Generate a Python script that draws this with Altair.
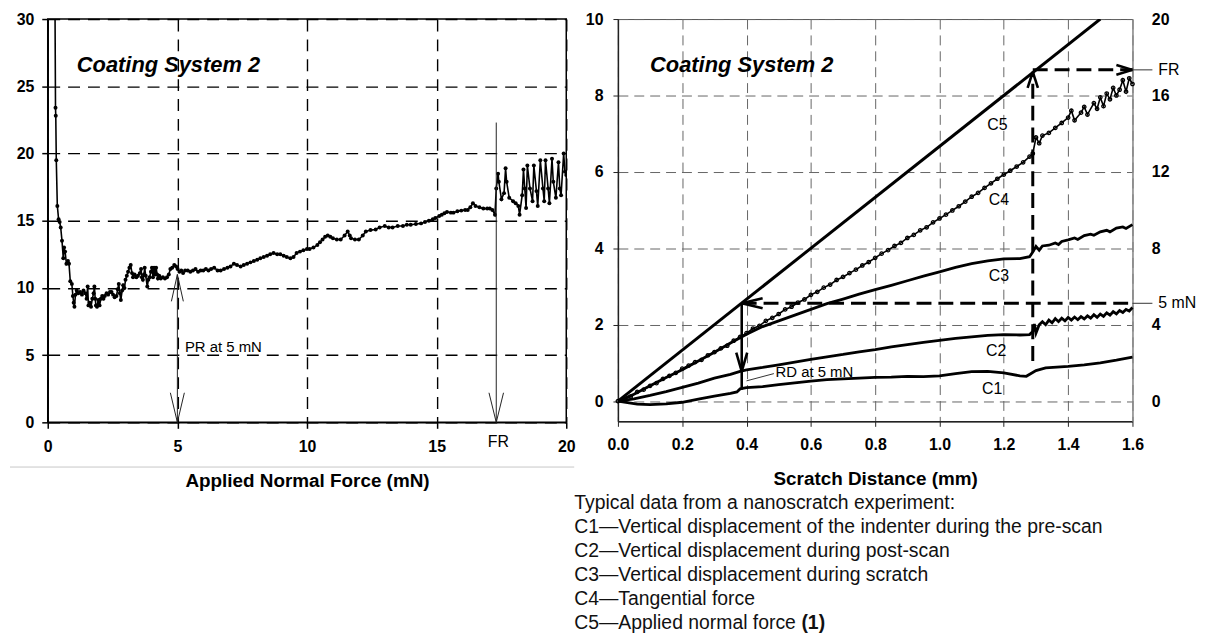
import altair as alt
import pandas as pd

FONT = "Liberation Sans"

# ---------------- data: left panel (friction-like trace vs applied normal force) ----------------
LEFT_POINTS = [
    (0.28, 31.0), (0.30, 23.4), (0.31, 22.8), (0.33, 19.5), (0.37, 16.1), (0.42, 15.1), (0.46, 14.9),
    (0.50, 14.5), (0.55, 13.5), (0.60, 12.2), (0.63, 13.0), (0.67, 12.7), (0.72, 11.8), (0.78, 12.0),
    (0.82, 11.8), (0.87, 10.5), (0.93, 10.3), (0.97, 9.4), (1.00, 8.9), (1.03, 8.6), (1.07, 9.5),
    (1.12, 9.8), (1.18, 9.6), (1.25, 9.7), (1.32, 9.5), (1.38, 9.8), (1.45, 9.6), (1.50, 9.2),
    (1.54, 10.1), (1.57, 8.7), (1.62, 8.9), (1.67, 8.6), (1.72, 9.2), (1.77, 9.6), (1.80, 10.1),
    (1.83, 9.2), (1.86, 8.7), (1.90, 8.6), (1.95, 9.1), (2.00, 8.7), (2.05, 9.2), (2.10, 9.4),
    (2.15, 9.2), (2.20, 9.4), (2.27, 9.6), (2.33, 9.5), (2.40, 9.7), (2.46, 9.7), (2.52, 9.5),
    (2.58, 9.3), (2.65, 9.4), (2.70, 9.9), (2.74, 10.3), (2.78, 9.6), (2.82, 9.1), (2.87, 9.8),
    (2.91, 10.2), (2.96, 10.0), (3.00, 10.6), (3.05, 10.9), (3.10, 11.2), (3.15, 11.5), (3.20, 11.7),
    (3.25, 11.1), (3.29, 10.8), (3.35, 11.0), (3.42, 10.8), (3.48, 10.9), (3.55, 11.1), (3.60, 11.4),
    (3.63, 10.8), (3.67, 10.6), (3.71, 11.0), (3.74, 11.5), (3.78, 10.9), (3.84, 10.1), (3.88, 10.6),
    (3.93, 10.8), (3.98, 11.2), (4.02, 11.5), (4.06, 10.8), (4.10, 11.5), (4.14, 11.0), (4.18, 11.5),
    (4.22, 11.0), (4.25, 10.7), (4.30, 10.9), (4.36, 10.7), (4.44, 10.8), (4.52, 10.7), (4.60, 10.8),
    (4.67, 11.0), (4.73, 11.4), (4.80, 11.5), (4.88, 11.7), (4.95, 11.6), (5.01, 11.4), (5.08, 11.2),
    (5.15, 11.3), (5.22, 11.1), (5.30, 11.3), (5.40, 11.3), (5.50, 11.2), (5.60, 11.3), (5.70, 11.4),
    (5.80, 11.2), (5.90, 11.3), (6.00, 11.3), (6.10, 11.4), (6.20, 11.3), (6.30, 11.4), (6.42, 11.5),
    (6.55, 11.3), (6.67, 11.3), (6.80, 11.4), (6.93, 11.5), (7.05, 11.6), (7.18, 11.8), (7.30, 11.7),
    (7.44, 11.6), (7.56, 11.7), (7.69, 11.8), (7.82, 11.9), (7.95, 12.0), (8.08, 12.1), (8.20, 12.2),
    (8.33, 12.3), (8.46, 12.4), (8.58, 12.5), (8.71, 12.6), (8.85, 12.5), (8.97, 12.5), (9.10, 12.4),
    (9.22, 12.3), (9.36, 12.2), (9.48, 12.3), (9.60, 12.6), (9.73, 12.7), (9.86, 12.8), (10.00, 12.9),
    (10.10, 12.9), (10.25, 13.0), (10.40, 13.2), (10.50, 13.4), (10.60, 13.6), (10.70, 13.8),
    (10.80, 13.9), (10.90, 13.8), (11.00, 13.7), (11.15, 13.6), (11.30, 13.6), (11.45, 13.9),
    (11.57, 14.2), (11.65, 13.9), (11.70, 13.7), (11.85, 13.6), (12.00, 13.6), (12.15, 13.9),
    (12.27, 14.2), (12.45, 14.3), (12.65, 14.35), (12.80, 14.5), (13.00, 14.6), (13.15, 14.5),
    (13.30, 14.5), (13.50, 14.6), (13.70, 14.6), (13.85, 14.7), (14.00, 14.7), (14.20, 14.75),
    (14.40, 14.8), (14.55, 14.9), (14.70, 15.0), (14.85, 15.1), (14.95, 15.2), (15.10, 15.35),
    (15.20, 15.45), (15.30, 15.55), (15.40, 15.65), (15.55, 15.6), (15.65, 15.6), (15.80, 15.7),
    (15.95, 15.75), (16.10, 15.8), (16.20, 15.8), (16.30, 16.0), (16.40, 16.3), (16.50, 16.1),
    (16.65, 16.0), (16.80, 15.9), (16.95, 15.9), (17.05, 15.9), (17.15, 15.8), (17.25, 15.45),
    (17.30, 17.4), (17.37, 18.5), (17.40, 17.9), (17.50, 16.6), (17.60, 17.05), (17.66, 18.9),
    (17.70, 17.9), (17.80, 16.7), (17.95, 16.45), (18.05, 16.3), (18.15, 16.1), (18.20, 15.45),
    (18.30, 16.9), (18.35, 18.8), (18.40, 17.4), (18.45, 15.95), (18.50, 19.1), (18.60, 17.4),
    (18.70, 16.45), (18.75, 19.1), (18.85, 17.2), (18.90, 16.1), (19.00, 19.5), (19.10, 17.4),
    (19.15, 16.45), (19.20, 19.5), (19.30, 17.4), (19.35, 16.3), (19.45, 19.6), (19.50, 17.9),
    (19.60, 16.7), (19.70, 19.35), (19.75, 17.4), (19.80, 16.9), (19.90, 20.0), (19.95, 18.65),
    (20.00, 18.4),
]

# ---------------- data: right panel curves (left-axis units) ----------------
C5 = [(0.0, 0.0), (1.5, 10.0)]

C4 = [
    (0.00, 0.00), (0.02, 0.05), (0.04, 0.12), (0.06, 0.24), (0.08, 0.30), (0.10, 0.40), (0.12, 0.47),
    (0.14, 0.58), (0.16, 0.66), (0.18, 0.74), (0.20, 0.85), (0.22, 0.93), (0.24, 1.02), (0.26, 1.08),
    (0.28, 1.20), (0.30, 1.28), (0.32, 1.38), (0.34, 1.45), (0.36, 1.58), (0.38, 1.68), (0.40, 1.78),
    (0.42, 1.90), (0.44, 1.97), (0.46, 2.10), (0.48, 2.18), (0.50, 2.28), (0.52, 2.40), (0.54, 2.47),
    (0.56, 2.58), (0.58, 2.66), (0.60, 2.78), (0.62, 2.86), (0.64, 2.97), (0.66, 3.05), (0.68, 3.17),
    (0.70, 3.25), (0.72, 3.35), (0.74, 3.44), (0.76, 3.55), (0.78, 3.64), (0.80, 3.75), (0.82, 3.86),
    (0.84, 3.95), (0.86, 4.06), (0.88, 4.14), (0.90, 4.27), (0.92, 4.35), (0.94, 4.47), (0.96, 4.55),
    (0.98, 4.68), (1.00, 4.78), (1.02, 4.88), (1.04, 4.99), (1.06, 5.10), (1.08, 5.22), (1.10, 5.35),
    (1.12, 5.45), (1.14, 5.58), (1.16, 5.70), (1.18, 5.82), (1.20, 5.93), (1.22, 6.03), (1.24, 6.14),
    (1.26, 6.25), (1.28, 6.40), (1.29, 6.48), (1.30, 6.90), (1.31, 6.75), (1.32, 6.95), (1.34, 7.02),
    (1.36, 7.15), (1.38, 7.28), (1.40, 7.42), (1.41, 7.60), (1.42, 7.35), (1.44, 7.55), (1.45, 7.70),
    (1.46, 7.50), (1.48, 7.80), (1.49, 7.65), (1.50, 7.95), (1.51, 7.72), (1.52, 8.05), (1.53, 7.90),
    (1.54, 8.20), (1.55, 8.00), (1.56, 8.15), (1.57, 8.40), (1.58, 8.10), (1.59, 8.45), (1.60, 8.30),
]

C3 = [
    (0.00, 0.00), (0.05, 0.18), (0.10, 0.40), (0.15, 0.62), (0.20, 0.82), (0.25, 1.05), (0.30, 1.28),
    (0.35, 1.52), (0.40, 1.75), (0.45, 1.95), (0.50, 2.10), (0.55, 2.25), (0.60, 2.40), (0.65, 2.55),
    (0.70, 2.67), (0.75, 2.80), (0.80, 2.92), (0.85, 3.03), (0.90, 3.15), (0.95, 3.27), (1.00, 3.38),
    (1.05, 3.50), (1.10, 3.60), (1.15, 3.67), (1.20, 3.72), (1.25, 3.73), (1.28, 3.78), (1.29, 3.90),
    (1.30, 4.05), (1.31, 3.95), (1.32, 4.06), (1.34, 4.08), (1.36, 4.14), (1.37, 4.10), (1.38, 4.18),
    (1.40, 4.22), (1.42, 4.27), (1.43, 4.23), (1.45, 4.33), (1.47, 4.37), (1.48, 4.34), (1.50, 4.43),
    (1.52, 4.47), (1.53, 4.43), (1.55, 4.53), (1.57, 4.56), (1.58, 4.52), (1.60, 4.62),
]

C2 = [
    (0.00, 0.00), (0.05, 0.06), (0.10, 0.15), (0.15, 0.25), (0.20, 0.36), (0.25, 0.47), (0.30, 0.60),
    (0.35, 0.70), (0.38, 0.78), (0.40, 0.82), (0.45, 0.88), (0.50, 0.95), (0.55, 1.02), (0.60, 1.09),
    (0.65, 1.16), (0.70, 1.22), (0.75, 1.29), (0.80, 1.35), (0.85, 1.42), (0.90, 1.48), (0.95, 1.54),
    (1.00, 1.59), (1.05, 1.64), (1.10, 1.68), (1.15, 1.72), (1.20, 1.74), (1.25, 1.73), (1.28, 1.74),
    (1.29, 1.82), (1.295, 2.02), (1.30, 1.78), (1.31, 2.00), (1.32, 2.08), (1.33, 2.00), (1.34, 2.12),
    (1.35, 2.05), (1.36, 2.16), (1.37, 2.08), (1.38, 2.17), (1.39, 2.10), (1.40, 2.19), (1.41, 2.12),
    (1.42, 2.20), (1.43, 2.13), (1.44, 2.21), (1.45, 2.15), (1.46, 2.23), (1.47, 2.17), (1.48, 2.26),
    (1.49, 2.19), (1.50, 2.28), (1.51, 2.22), (1.52, 2.31), (1.53, 2.25), (1.54, 2.34), (1.55, 2.28),
    (1.56, 2.37), (1.57, 2.32), (1.58, 2.40), (1.59, 2.36), (1.60, 2.45),
]

C1 = [
    (0.00, 0.00), (0.03, -0.04), (0.06, -0.08), (0.10, -0.09), (0.15, -0.07), (0.20, -0.03),
    (0.25, 0.05), (0.30, 0.13), (0.35, 0.20), (0.37, 0.24), (0.38, 0.32), (0.40, 0.35), (0.45, 0.38),
    (0.50, 0.43), (0.55, 0.48), (0.60, 0.52), (0.65, 0.56), (0.70, 0.58), (0.75, 0.60), (0.80, 0.62),
    (0.85, 0.63), (0.90, 0.65), (0.95, 0.64), (1.00, 0.66), (1.05, 0.72), (1.10, 0.77), (1.15, 0.78),
    (1.20, 0.74), (1.25, 0.66), (1.27, 0.65), (1.30, 0.80), (1.33, 0.87), (1.40, 0.91), (1.45, 0.95),
    (1.50, 1.00), (1.55, 1.07), (1.60, 1.15),
]

# ---------------- ticks ----------------
LEFT_X_TICKS = [0, 5, 10, 15, 20]
LEFT_Y_TICKS = [0, 5, 10, 15, 20, 25, 30]
RIGHT_X_TICKS = [0.0, 0.2, 0.4, 0.6, 0.8, 1.0, 1.2, 1.4, 1.6]
RIGHT_Y_TICKS = [0, 2, 4, 6, 8, 10]
RIGHT_Y2_TICKS = [0, 4, 8, 12, 16, 20]

# ---------------- annotations ----------------
LEFT_ARROWS = [  # x, y, x2, y2 (thin)
    (5.0, 11.0, 5.0, 0.0), (5.0, 11.0, 4.77, 9.0), (5.0, 11.0, 5.23, 9.0),
    (5.0, 0.0, 4.73, 2.2), (5.0, 0.0, 5.27, 2.2),
    (17.3, 22.3, 17.3, 0.0), (17.3, 0.0, 17.02, 2.2), (17.3, 0.0, 17.58, 2.2),
]
LEFT_LABELS = [("PR at 5 mN", 5.29, 5.6)]
LEFT_FR = [("FR", 17.38, -1.45)]
TITLE_TEXT = "Coating System 2"

RIGHT_DASHED = [
    (0.385, 2.56, 1.6, 2.56), (1.29, 1.05, 1.29, 8.6), (1.29, 8.67, 1.6, 8.67),
]
RIGHT_SOLID = [
    (0.385, 2.56, 0.385, 0.30), (0.385, 0.78, 0.368, 1.27), (0.385, 0.78, 0.402, 1.27),
    (0.385, 2.56, 0.45, 2.69), (0.385, 2.56, 0.45, 2.43),
    (1.29, 8.62, 1.274, 8.2), (1.29, 8.62, 1.306, 8.2),
    (1.6, 8.67, 1.55, 8.80), (1.6, 8.67, 1.55, 8.54),
]
RIGHT_THIN = [
    (1.6, 2.56, 1.662, 2.56), (1.6, 8.67, 1.662, 8.67), (0.40, 0.53, 0.485, 0.72),
]
CURVE_LABELS = [("C5", 1.18, 7.22), ("C4", 1.185, 5.27), ("C3", 1.185, 3.28), ("C2", 1.176, 1.31), ("C1", 1.164, 0.32)]
RIGHT_SIDE_LABELS = [("FR", 1.68, 8.67), ("5 mN", 1.68, 2.56)]
RD_LABEL = [("RD at 5 mN", 0.49, 0.75)]

CAPTION = [
    "Typical data from a nanoscratch experiment:",
    "C1\u2014Vertical displacement of the indenter during the pre-scan",
    "C2\u2014Vertical displacement during post-scan",
    "C3\u2014Vertical displacement during scratch",
    "C4\u2014Tangential force",
    "C5\u2014Applied normal force",
]
CAPTION_BOLD = "(1)"


def pts(pairs):
    return pd.DataFrame(pairs, columns=["x", "y"])


def segs(rows):
    return pd.DataFrame(rows, columns=["x", "y", "x2", "y2"])


def texts(rows):
    return pd.DataFrame(rows, columns=["t", "x", "y"])


# ================= LEFT PANEL =================
LW, LH = 522, 406
lx = alt.X("x:Q", scale=alt.Scale(domain=[0, 20], nice=False, zero=False),
           axis=alt.Axis(values=LEFT_X_TICKS, format="d", grid=True, gridColor="black", gridDash=[12, 8],
                         gridWidth=1.4, domainColor="black", domainWidth=1.5, tickColor="black", tickSize=6,
                         tickWidth=1.5, labelFont=FONT, labelFontSize=16, labelFontWeight="bold",
                         labelColor="black", labelPadding=10, labelFlush=False,
                         title="Applied Normal Force (mN)", titleFont=FONT, titleFontSize=19,
                         titleFontWeight="bold", titleColor="black", titlePadding=18))
ly = alt.Y("y:Q", scale=alt.Scale(domain=[0, 30], nice=False, zero=False),
           axis=alt.Axis(values=LEFT_Y_TICKS, format="d", grid=True, gridColor="black", gridDash=[12, 8],
                         gridWidth=1.4, domainColor="black", domainWidth=1.5, tickColor="black", tickSize=6,
                         tickWidth=1.5, labelFont=FONT, labelFontSize=16, labelFontWeight="bold",
                         labelColor="black", labelPadding=8, labelFlush=False, title=None))

left_line = alt.Chart(pts(LEFT_POINTS)).mark_line(
    color="black", strokeWidth=1.6, clip=True,
    point=alt.OverlayMarkDef(filled=True, size=16, color="black")
).encode(x=lx, y=ly)

left_arrows = alt.Chart(segs(LEFT_ARROWS)).mark_rule(color="#222", strokeWidth=1).encode(
    x=lx, y=ly, x2="x2:Q", y2="y2:Q")

left_title = alt.Chart(texts([(TITLE_TEXT, 1.12, 26.6)])).mark_text(
    align="left", baseline="middle", font=FONT, fontSize=22, fontWeight="bold", fontStyle="italic",
    color="black").encode(x=lx, y=ly, text="t:N")

left_pr = alt.Chart(texts(LEFT_LABELS)).mark_text(
    align="left", baseline="middle", font=FONT, fontSize=15, color="black").encode(x=lx, y=ly, text="t:N")

left_fr = alt.Chart(texts(LEFT_FR)).mark_text(
    align="center", baseline="middle", font=FONT, fontSize=16, color="black").encode(x=lx, y=ly, text="t:N")

left_sep = alt.Chart(pd.DataFrame({"v": [0]})).mark_rule(color="#c8c8c8", strokeWidth=1).encode(
    x=alt.value(-38), x2=alt.value(530), y=alt.value(451))

left = alt.layer(left_line, left_arrows, left_title, left_pr, left_fr, left_sep).properties(
    width=LW, height=LH, view=alt.ViewBackground(stroke="black", strokeWidth=1.5))

# ================= RIGHT PANEL =================
RW, RH = 518, 405
rx = alt.X("x:Q", scale=alt.Scale(domain=[0, 1.6], nice=False, zero=False),
           axis=alt.Axis(values=RIGHT_X_TICKS, format=".1f", grid=True, gridColor="#666", gridDash=[10, 6],
                         gridWidth=1, domainColor="#222", domainWidth=1.5, tickColor="#222", tickSize=5,
                         labelFont=FONT, labelFontSize=16, labelFontWeight="bold", labelColor="black",
                         labelPadding=10, labelFlush=False,
                         title="Scratch Distance (mm)", titleFont=FONT, titleFontSize=19,
                         titleFontWeight="bold", titleColor="black", titlePadding=18))
ry = alt.Y("y:Q", scale=alt.Scale(domain=[-0.53, 10], nice=False, zero=False),
           axis=alt.Axis(values=RIGHT_Y_TICKS, format="d", grid=True, gridColor="#666", gridDash=[10, 6],
                         gridWidth=1, domainColor="#222", domainWidth=1.5, tickColor="#222", tickSize=5,
                         labelFont=FONT, labelFontSize=16, labelFontWeight="bold", labelColor="black",
                         labelPadding=10, labelFlush=False, title=None))
ry2 = alt.Y("y:Q", scale=alt.Scale(domain=[-1.06, 20], nice=False, zero=False),
            axis=alt.Axis(orient="right", values=RIGHT_Y2_TICKS, format="d", grid=False, ticks=False,
                          domainColor="#999", domainWidth=1, labelFont=FONT, labelFontSize=16,
                          labelFontWeight="bold", labelColor="black", labelPadding=19, labelFlush=False,
                          title=None))

c5 = alt.Chart(pts(C5)).mark_line(color="black", strokeWidth=3, clip=True).encode(x=rx, y=ry)
c4 = alt.Chart(pts(C4)).mark_line(
    color="black", strokeWidth=1.6,
    point=alt.OverlayMarkDef(filled=False, size=12, strokeWidth=1.3, color="black")
).encode(x=rx, y=ry)
c3 = alt.Chart(pts(C3)).mark_line(color="black", strokeWidth=2.8).encode(x=rx, y=ry)
c2 = alt.Chart(pts(C2)).mark_line(color="black", strokeWidth=2.8).encode(x=rx, y=ry)
c1 = alt.Chart(pts(C1)).mark_line(color="black", strokeWidth=2.8).encode(x=rx, y=ry)

r_dashed = alt.Chart(segs(RIGHT_DASHED)).mark_rule(color="black", strokeWidth=3, strokeDash=[15, 7]).encode(
    x=rx, y=ry, x2="x2:Q", y2="y2:Q")
r_solid = alt.Chart(segs(RIGHT_SOLID)).mark_rule(color="black", strokeWidth=2.6).encode(
    x=rx, y=ry, x2="x2:Q", y2="y2:Q")
r_thin = alt.Chart(segs(RIGHT_THIN)).mark_rule(color="#333", strokeWidth=1).encode(
    x=rx, y=ry, x2="x2:Q", y2="y2:Q")

r_title = alt.Chart(texts([(TITLE_TEXT, 0.10, 8.8)])).mark_text(
    align="left", baseline="middle", font=FONT, fontSize=22, fontWeight="bold", fontStyle="italic",
    color="black").encode(x=rx, y=ry, text="t:N")
r_clabels = alt.Chart(texts(CURVE_LABELS)).mark_text(
    align="center", baseline="middle", font=FONT, fontSize=16, color="black").encode(x=rx, y=ry, text="t:N")
r_side = alt.Chart(texts(RIGHT_SIDE_LABELS)).mark_text(
    align="left", baseline="middle", font=FONT, fontSize=16, color="black").encode(x=rx, y=ry, text="t:N")
r_rd = alt.Chart(texts(RD_LABEL)).mark_text(
    align="left", baseline="middle", font=FONT, fontSize=15, color="black").encode(x=rx, y=ry, text="t:N")

CAP_FS = 19.5
CAP_X = -44
CAP_Y0 = 487
CAP_DY = 24.3
caption_layers = []
for i, line in enumerate(CAPTION):
    caption_layers.append(
        alt.Chart(pd.DataFrame({"t": [line]})).mark_text(
            align="left", baseline="middle", font=FONT, fontSize=CAP_FS, color="#111"
        ).encode(text="t:N", x=alt.value(CAP_X), y=alt.value(CAP_Y0 + i * CAP_DY))
    )
caption_layers.append(
    alt.Chart(pd.DataFrame({"t": [CAPTION_BOLD]})).mark_text(
        align="left", baseline="middle", font=FONT, fontSize=CAP_FS, fontWeight="bold", color="#111"
    ).encode(text="t:N", x=alt.value(CAP_X + 11.73 * CAP_FS), y=alt.value(CAP_Y0 + 5 * CAP_DY))
)

right_main = alt.layer(c5, c4, c3, c2, c1, r_dashed, r_solid, r_thin, r_title, r_clabels, r_side, r_rd,
                       *caption_layers)
right_axis = alt.Chart(pd.DataFrame({"x": [0.0, 1.6], "y": [0.0, 20.0]})).mark_point(opacity=0).encode(
    x=rx, y=ry2)

right = alt.layer(right_main, right_axis).resolve_scale(y="independent").properties(
    width=RW, height=RH, view=alt.ViewBackground(stroke="#555", strokeWidth=1))

chart = alt.hconcat(left, right, spacing=52, bounds="flush").properties(
    padding={"left": 0, "top": 0, "right": 5, "bottom": 5},
    background="white",
)

chart.save("out.html", embed_options={"renderer": "svg", "actions": False})
